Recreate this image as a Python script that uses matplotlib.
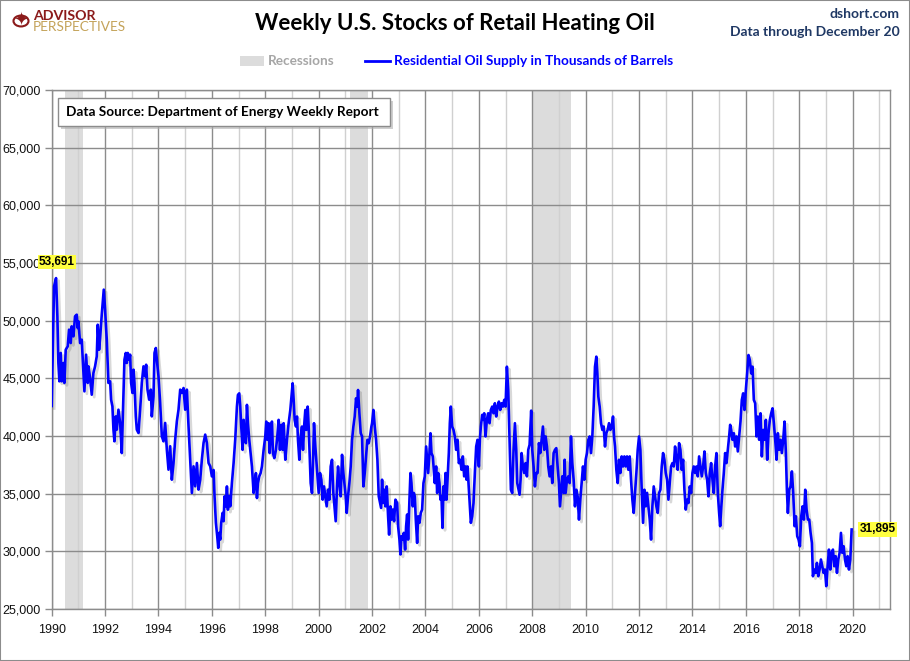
import numpy as np
import matplotlib
matplotlib.use("Agg")
import matplotlib.pyplot as plt
import matplotlib.patheffects as pe
from matplotlib.patches import Rectangle, Circle
from matplotlib.ticker import MultipleLocator, FuncFormatter

########### data ###########

# decimal year of each reading
years = [
    1990.0, 1990.088, 1990.163, 1990.213, 1990.25, 1990.288, 1990.338, 1990.375, 1990.438, 1990.475,
    1990.525, 1990.6, 1990.65, 1990.713, 1990.75, 1990.813, 1990.875, 1990.938, 1990.975, 1991.0,
    1991.063, 1991.125, 1991.163, 1991.225, 1991.288, 1991.35, 1991.375, 1991.438, 1991.5, 1991.563,
    1991.625, 1991.688, 1991.725, 1991.775, 1991.813, 1991.875, 1991.95, 1992.0, 1992.063, 1992.125,
    1992.188, 1992.225, 1992.275, 1992.313, 1992.35, 1992.4, 1992.438, 1992.5, 1992.563, 1992.625,
    1992.688, 1992.725, 1992.775, 1992.813, 1992.85, 1992.9, 1992.938, 1992.975, 1993.025, 1993.063,
    1993.1, 1993.15, 1993.188, 1993.25, 1993.313, 1993.375, 1993.438, 1993.5, 1993.538, 1993.588,
    1993.65, 1993.713, 1993.75, 1993.813, 1993.85, 1993.9, 1993.95, 1994.0, 1994.063, 1994.125,
    1994.188, 1994.25, 1994.313, 1994.375, 1994.438, 1994.5, 1994.563, 1994.625, 1994.688, 1994.75,
    1994.813, 1994.875, 1994.938, 1995.0, 1995.063, 1995.125, 1995.188, 1995.25, 1995.313, 1995.375,
    1995.438, 1995.5, 1995.563, 1995.625, 1995.688, 1995.75, 1995.813, 1995.875, 1995.938, 1996.0,
    1996.063, 1996.1, 1996.15, 1996.2, 1996.238, 1996.275, 1996.313, 1996.35, 1996.4, 1996.438,
    1996.475, 1996.525, 1996.563, 1996.6, 1996.65, 1996.688, 1996.75, 1996.813, 1996.875, 1996.938,
    1996.975, 1997.025, 1997.063, 1997.1, 1997.15, 1997.188, 1997.225, 1997.275, 1997.313, 1997.35,
    1997.4, 1997.438, 1997.5, 1997.563, 1997.6, 1997.65, 1997.688, 1997.725, 1997.775, 1997.825,
    1997.875, 1997.938, 1998.0, 1998.038, 1998.075, 1998.125, 1998.163, 1998.213, 1998.25, 1998.288,
    1998.338, 1998.4, 1998.45, 1998.5, 1998.55, 1998.6, 1998.65, 1998.688, 1998.75, 1998.813,
    1998.875, 1998.938, 1998.975, 1999.025, 1999.063, 1999.1, 1999.15, 1999.188, 1999.225, 1999.275,
    1999.313, 1999.375, 1999.413, 1999.463, 1999.5, 1999.538, 1999.588, 1999.625, 1999.663, 1999.7,
    1999.75, 1999.788, 1999.825, 1999.875, 1999.938, 2000.0, 2000.05, 2000.1, 2000.15, 2000.2,
    2000.25, 2000.3, 2000.35, 2000.4, 2000.45, 2000.5, 2000.55, 2000.6, 2000.638, 2000.688,
    2000.725, 2000.775, 2000.825, 2000.875, 2000.925, 2000.975, 2001.013, 2001.05, 2001.1, 2001.15,
    2001.2, 2001.25, 2001.3, 2001.35, 2001.4, 2001.438, 2001.475, 2001.525, 2001.575, 2001.625,
    2001.675, 2001.725, 2001.775, 2001.825, 2001.875, 2001.925, 2001.975, 2002.0, 2002.05, 2002.1,
    2002.15, 2002.2, 2002.25, 2002.3, 2002.338, 2002.375, 2002.413, 2002.463, 2002.5, 2002.55,
    2002.6, 2002.638, 2002.688, 2002.725, 2002.775, 2002.825, 2002.875, 2002.938, 2002.975, 2003.025,
    2003.063, 2003.1, 2003.15, 2003.188, 2003.238, 2003.275, 2003.313, 2003.35, 2003.4, 2003.438,
    2003.475, 2003.525, 2003.563, 2003.6, 2003.638, 2003.688, 2003.725, 2003.775, 2003.825, 2003.875,
    2003.925, 2003.975, 2004.025, 2004.063, 2004.1, 2004.15, 2004.188, 2004.225, 2004.275, 2004.313,
    2004.35, 2004.4, 2004.438, 2004.475, 2004.525, 2004.563, 2004.6, 2004.638, 2004.675, 2004.713,
    2004.75, 2004.788, 2004.825, 2004.875, 2004.913, 2004.95, 2005.0, 2005.05, 2005.1, 2005.15,
    2005.2, 2005.25, 2005.3, 2005.35, 2005.4, 2005.45, 2005.5, 2005.538, 2005.575, 2005.625,
    2005.663, 2005.7, 2005.75, 2005.8, 2005.85, 2005.9, 2005.95, 2006.0, 2006.038, 2006.075,
    2006.125, 2006.163, 2006.2, 2006.25, 2006.3, 2006.35, 2006.4, 2006.45, 2006.5, 2006.55,
    2006.6, 2006.65, 2006.7, 2006.75, 2006.8, 2006.85, 2006.9, 2006.95, 2007.0, 2007.05,
    2007.1, 2007.15, 2007.2, 2007.25, 2007.3, 2007.35, 2007.4, 2007.438, 2007.488, 2007.525,
    2007.563, 2007.6, 2007.65, 2007.7, 2007.75, 2007.8, 2007.85, 2007.9, 2007.96, 2008.0,
    2008.05, 2008.1, 2008.15, 2008.2, 2008.25, 2008.3, 2008.35, 2008.4, 2008.45, 2008.5,
    2008.55, 2008.6, 2008.65, 2008.7, 2008.75, 2008.8, 2008.85, 2008.9, 2008.95, 2009.0,
    2009.038, 2009.075, 2009.125, 2009.175, 2009.213, 2009.25, 2009.3, 2009.35, 2009.4, 2009.45,
    2009.5, 2009.55, 2009.6, 2009.65, 2009.7, 2009.75, 2009.8, 2009.85, 2009.9, 2009.95,
    2010.0, 2010.05, 2010.1, 2010.15, 2010.2, 2010.25, 2010.3, 2010.35, 2010.4, 2010.438,
    2010.475, 2010.525, 2010.575, 2010.625, 2010.675, 2010.725, 2010.775, 2010.825, 2010.875, 2010.925,
    2010.975, 2011.025, 2011.063, 2011.1, 2011.15, 2011.2, 2011.25, 2011.3, 2011.35, 2011.4,
    2011.45, 2011.5, 2011.55, 2011.6, 2011.65, 2011.7, 2011.75, 2011.8, 2011.85, 2011.9,
    2011.95, 2012.0, 2012.05, 2012.1, 2012.15, 2012.2, 2012.25, 2012.3, 2012.35, 2012.4,
    2012.45, 2012.5, 2012.55, 2012.6, 2012.65, 2012.7, 2012.75, 2012.8, 2012.85, 2012.9,
    2012.95, 2013.0, 2013.05, 2013.1, 2013.15, 2013.2, 2013.25, 2013.3, 2013.35, 2013.4,
    2013.45, 2013.5, 2013.55, 2013.6, 2013.65, 2013.7, 2013.75, 2013.8, 2013.85, 2013.9,
    2013.95, 2014.0, 2014.05, 2014.1, 2014.15, 2014.2, 2014.25, 2014.3, 2014.35, 2014.4,
    2014.45, 2014.5, 2014.55, 2014.6, 2014.65, 2014.7, 2014.75, 2014.8, 2014.85, 2014.9,
    2014.95, 2015.0, 2015.038, 2015.075, 2015.125, 2015.175, 2015.225, 2015.275, 2015.325, 2015.375,
    2015.413, 2015.45, 2015.5, 2015.55, 2015.6, 2015.65, 2015.7, 2015.75, 2015.8, 2015.85,
    2015.9, 2015.95, 2016.0, 2016.05, 2016.1, 2016.15, 2016.2, 2016.25, 2016.3, 2016.35,
    2016.4, 2016.45, 2016.5, 2016.55, 2016.6, 2016.65, 2016.7, 2016.75, 2016.8, 2016.85,
    2016.9, 2016.95, 2017.0, 2017.05, 2017.1, 2017.15, 2017.2, 2017.25, 2017.3, 2017.35,
    2017.4, 2017.45, 2017.5, 2017.538, 2017.575, 2017.625, 2017.675, 2017.725, 2017.775, 2017.825,
    2017.875, 2017.925, 2017.975, 2018.025, 2018.075, 2018.125, 2018.175, 2018.225, 2018.275, 2018.325,
    2018.375, 2018.425, 2018.475, 2018.513, 2018.563, 2018.613, 2018.663, 2018.713, 2018.763, 2018.813,
    2018.863, 2018.913, 2018.963, 2019.013, 2019.063, 2019.113, 2019.163, 2019.213, 2019.263, 2019.313,
    2019.363, 2019.413, 2019.463, 2019.513, 2019.563, 2019.613, 2019.663, 2019.713, 2019.763, 2019.813,
    2019.863, 2019.913, 2019.963,
]

# residential heating oil stocks, thousands of barrels
stocks = [
    42600, 52980, 53691, 50380, 46330, 44740, 47200, 44740, 46330, 44600,
    47480, 47770, 49220, 48060, 49510, 48640, 50380, 50520, 49360, 49940,
    48060, 48350, 46620, 43870, 47050, 44600, 46040, 45030, 43580, 45460,
    46040, 46910, 49650, 47480, 48500, 50520, 52690, 50950, 48350, 44600,
    44740, 43150, 42560, 40550, 39540, 41700, 40550, 42280, 41130, 38520,
    43440, 46620, 47200, 46330, 47200, 46620, 47050, 44600, 43730, 45750,
    44600, 41700, 40550, 40260, 42280, 44600, 46040, 45170, 46180, 44020,
    43150, 44020, 41700, 43440, 47200, 47630, 46330, 45170, 42860, 39970,
    39540, 41130, 38810, 37080, 39110, 36210, 37660, 39680, 41270, 42280,
    44020, 43730, 44160, 42280, 44020, 40840, 37950, 35060, 37370, 35640,
    37660, 35350, 36210, 37950, 39400, 40120, 39400, 37660, 37370, 36500,
    37050, 34770, 32470, 31310, 30300, 31600, 31020, 32470, 33330, 32610,
    34770, 33900, 35630, 33610, 34770, 33900, 35920, 37650, 39710, 42550,
    43560, 43700, 42550, 40820, 38800, 41400, 39670, 39380, 42700, 41110,
    39670, 38800, 37360, 35060, 35920, 36780, 34620, 35920, 36500, 36780,
    37360, 38800, 39960, 41250, 39670, 41110, 38520, 40820, 41250, 38520,
    38080, 38800, 39960, 41400, 38800, 40970, 38800, 41110, 37940, 39670,
    41110, 42260, 43270, 44570, 43130, 41400, 40820, 41690, 39670, 37940,
    39670, 40820, 38800, 41110, 42260, 40530, 42550, 40820, 38230, 35920,
    35060, 37650, 41110, 39090, 37070, 35060, 36790, 36210, 34480, 35630,
    34770, 33900, 35340, 34480, 37360, 37940, 35060, 33620, 32610, 35630,
    37360, 35920, 34770, 38370, 36790, 35630, 34770, 33330, 34770, 35920,
    37360, 39670, 40820, 41690, 43270, 42550, 43990, 41970, 40240, 39960,
    35630, 36790, 38230, 39670, 39380, 39960, 40820, 41110, 42260, 40820,
    39670, 37940, 34770, 34190, 33760, 36210, 34190, 35340, 33900, 35630,
    33040, 31450, 33900, 32750, 33620, 32610, 34480, 34190, 32180, 31020,
    29730, 31310, 31020, 31600, 30150, 32180, 33190, 31020, 34480, 36790,
    35920, 33900, 35060, 34770, 32750, 30730, 33040, 32470, 33330, 33620,
    35920, 36500, 39090, 37940, 36790, 38520, 40240, 38520, 38230, 37070,
    35920, 37360, 35060, 36790, 35920, 34480, 34770, 32030, 35630, 34480,
    36790, 34480, 36210, 38520, 41110, 42550, 40820, 40530, 39960, 38800,
    39670, 37650, 37940, 37070, 38230, 36500, 37360, 36210, 37360, 35340,
    33900, 32470, 33040, 34190, 36790, 39090, 39670, 37360, 39670, 40820,
    41830, 41400, 41970, 39960, 41400, 41970, 41110, 42260, 42550, 41970,
    42840, 41690, 42550, 42980, 42260, 42840, 42550, 43130, 42550, 46010,
    43990, 39670, 35340, 35060, 38800, 41110, 38800, 35920, 35340, 34910,
    36210, 38520, 37360, 36790, 37650, 36500, 38800, 39240, 42200, 38800,
    37360, 35630, 36790, 36790, 39380, 38520, 39670, 40820, 38800, 39960,
    39090, 37360, 36500, 37360, 35920, 38520, 38800, 38950, 37360, 35920,
    33900, 35060, 36500, 35060, 37940, 35060, 36210, 36500, 35920, 39960,
    37650, 36210, 33900, 35340, 34770, 32750, 34480, 35920, 37360, 36210,
    37940, 38520, 39670, 39960, 38520, 39960, 42550, 46010, 46880, 45430,
    43420, 42550, 41110, 40530, 40820, 39090, 40240, 40530, 41110, 40530,
    40820, 41690, 39960, 39090, 37070, 35920, 37940, 36790, 38230, 37360,
    38230, 37360, 38230, 37070, 38230, 36210, 34480, 33330, 35060, 36790,
    38800, 39960, 38800, 35340, 32470, 35340, 33900, 35060, 33900, 32750,
    31020, 33900, 35630, 34770, 33900, 33330, 35060, 35340, 37360, 38520,
    37940, 36790, 36210, 34480, 35920, 37360, 37650, 37360, 39090, 37940,
    37070, 39380, 38800, 37070, 37940, 35340, 33620, 34480, 34190, 35630,
    35060, 36790, 37360, 36790, 37360, 36500, 38230, 37360, 36500, 37360,
    38660, 36790, 36210, 34770, 36790, 37650, 36210, 35060, 37360, 38520,
    35060, 33330, 32180, 33620, 35340, 36790, 38520, 37650, 38800, 39960,
    40970, 40530, 39670, 40240, 39090, 39960, 38660, 39960, 41250, 43130,
    43700, 42260, 43990, 45430, 47020, 46590, 45430, 46010, 43130, 42840,
    39960, 41690, 39670, 41970, 38230, 40530, 39670, 41400, 37940, 40240,
    41400, 41970, 42400, 41110, 39670, 37940, 40240, 38800, 39670, 38520,
    39670, 41250, 38520, 35340, 33330, 35340, 35630, 36930, 35060, 32180,
    33040, 31310, 31020, 30440, 33040, 33900, 32750, 35340, 33620, 32750,
    32750, 31600, 30730, 27840, 28420, 28130, 29000, 27840, 28420, 29290,
    28710, 28130, 28420, 26980, 28710, 30150, 28420, 29870, 30150, 28710,
    29580, 28130, 29290, 29870, 31600, 29870, 30440, 29290, 28710, 29580,
    28420, 29290, 31895,
]

recession_starts = [1990.5, 2001.17, 2008.0]
recession_ends = [1991.17, 2001.84, 2009.45]

title = "Weekly U.S. Stocks of Retail Heating Oil"
series_label = "Residential Oil Supply in Thousands of Barrels"
source_note = "Data Source: Department of Energy Weekly Report"

#################################

W, H = 910, 661
LINE_BLUE = "#0000ff"
GRID_DARK = "#8c8c8c"
GRID_LIGHT = "#d0d0d0"


def fx(px):
    return px / W


def fy(py):
    return 1 - py / H


fig = plt.figure(figsize=(W / 100, H / 100), dpi=100)
ax = fig.add_axes([fx(51.7), fy(609), fx(890) - fx(51.7), fy(90) - fy(609)])

# recession bands
for s, e in zip(recession_starts, recession_ends):
    ax.axvspan(s, e, color="#dcdcdc", lw=0, zorder=0)

ax.plot(years, stocks, color=LINE_BLUE, lw=1.9, zorder=3, solid_joinstyle="round",
        path_effects=[pe.SimpleLineShadow(offset=(1.8, -1.8), shadow_color="#505050", alpha=0.22),
                      pe.Normal()])

ax.set_xlim(1990, 2021.4)
ax.set_ylim(25000, 70000)

ax.xaxis.set_major_locator(MultipleLocator(2))
ax.xaxis.set_minor_locator(MultipleLocator(1))
ax.yaxis.set_major_locator(MultipleLocator(5000))
ax.yaxis.set_major_formatter(FuncFormatter(lambda v, p: f"{int(v):,}"))
ax.xaxis.set_major_formatter(FuncFormatter(lambda v, p: f"{int(v)}" if v <= 2020 else ""))

ax.grid(which="major", axis="both", color=GRID_DARK, lw=1.0, zorder=1)
ax.grid(which="minor", axis="x", color=GRID_LIGHT, lw=1.0, zorder=1)
ax.set_axisbelow(True)

ax.tick_params(axis="both", which="major", length=5, width=1, color=GRID_DARK,
               labelsize=9, pad=3)
ax.tick_params(axis="x", which="major", pad=6)
ax.tick_params(axis="x", which="minor", length=0)
for lab in ax.get_xticklabels() + ax.get_yticklabels():
    lab.set_fontfamily("Liberation Sans")
    lab.set_color("#111111")
for sp in ax.spines.values():
    sp.set_color(GRID_DARK)
    sp.set_linewidth(1.0)

# value call-outs
fig.text(fx(39), fy(262), "53,691", ha="left", va="center", fontsize=8.5, fontweight="bold",
         family="Liberation Sans", color="black",
         bbox=dict(boxstyle="square,pad=0.1", fc="#ffff40", ec="none"), zorder=5)
ax.text(2020.25, 31895, "31,895", ha="left", va="center", fontsize=8.5, fontweight="bold",
        family="Liberation Sans", color="black",
        bbox=dict(boxstyle="square,pad=0.1", fc="#ffff40", ec="none"), zorder=5)

# data source box with shadow
fig.patches.append(Rectangle((fx(61), fy(129)), fx(393) - fx(61), fy(98) - fy(126),
                             transform=fig.transFigure, fc="#b0b0b0", ec="none", alpha=0.6,
                             zorder=4))
fig.patches.append(Rectangle((fx(58), fy(126)), fx(390) - fx(58), fy(98) - fy(126),
                             transform=fig.transFigure, fc="white", ec="#8c8c8c", lw=1,
                             zorder=5))
fig.text(fx(66), fy(112), source_note, ha="left", va="center", fontsize=9.8,
         family="Lato", fontweight="bold", color="black", zorder=6)

# title and header texts
fig.text(fx(455), fy(24), title, ha="center", va="center", fontsize=16,
         family="Lato", fontweight="bold", color="black")
fig.text(fx(900), fy(14), "dshort.com", ha="right", va="center", fontsize=10,
         family="Lato", fontweight="bold", color="#1f3864")
fig.text(fx(900), fy(32), "Data through December 20", ha="right", va="center", fontsize=10,
         family="Lato", fontweight="bold", color="#1f3864")

# legend
fig.patches.append(Rectangle((fx(240), fy(66)), fx(264) - fx(240), fy(56) - fy(66),
                             transform=fig.transFigure, fc="#dcdcdc", ec="none"))
fig.text(fx(268), fy(61), "Recessions", ha="left", va="center", fontsize=9.8,
         family="Lato", fontweight="bold", color="#a6a6a6")
fig.lines.append(plt.Line2D([fx(365), fx(390)], [fy(61), fy(61)], transform=fig.transFigure,
                            color=LINE_BLUE, lw=2))
fig.text(fx(394), fy(61), series_label, ha="left", va="center", fontsize=9.8,
         family="Lato", fontweight="bold", color=LINE_BLUE)

# logo
fig.patches.append(Circle((fx(21), fy(21)), 7.5 / W, transform=fig.transFigure,
                          fc="none", ec="#8b1a1a", lw=1.5))
fig.text(fx(21), fy(21), "\u2726", ha="center", va="center", fontsize=13,
         color="#8b1a1a", family="DejaVu Sans")
fig.text(fx(33), fy(20), "ADVISOR", ha="left", va="baseline", fontsize=10.2,
         family="Lato", fontweight="bold", color="#8b1a1a")
fig.text(fx(33), fy(31), "PERSPECTIVES", ha="left", va="baseline", fontsize=9.8,
         family="Lato", color="#c4a35a")

# outer frame
fig.patches.append(Rectangle((0, 0), 1, 1, transform=fig.transFigure, fc="none",
                             ec="#8c8c8c", lw=1.5))

fig.savefig("out.png", dpi=100)
